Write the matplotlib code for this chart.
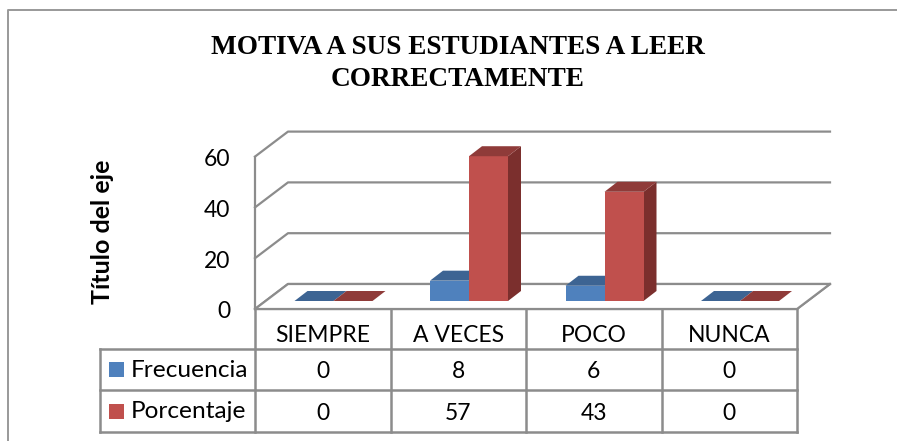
import matplotlib
matplotlib.use("Agg")
import matplotlib.pyplot as plt
from matplotlib.patches import Polygon, Rectangle

# Data
categories = ["SIEMPRE", "A VECES", "POCO", "NUNCA"]
series_names = ["Frecuencia", "Porcentaje"]
frecuencia = [0, 8, 6, 0]
porcentaje = [0, 57, 43, 0]
y_ticks = [0, 20, 40, 60]

# Geometry in image pixels (the chart is a fake 3D box)
x0, x1 = 255, 797       # front floor edge
base_y = 309            # front floor y
dx, dy = 33, 25         # box depth
px_per_unit = 2.54
bar_w = 39
bar_dx, bar_dy = 13, 10  # bar depth
bar_base = 301
cat_w = (x1 - x0) / len(categories)
line = "#8c8c8c"
font = "Lato"

colors = ["#4F81BD", "#C0504D"]
top_colors = ["#3D6493", "#8F3B39"]
side_colors = ["#345578", "#7B2F2D"]

fig = plt.figure(figsize=(8.97, 4.41), dpi=100)
ax = fig.add_axes([0, 0, 1, 1])
ax.set_xlim(0, 897)
ax.set_ylim(441, 0)
ax.axis("off")

# Outer border
ax.plot([8, 8, 897], [441, 10, 10], color="#999999", lw=1.4)

# Title
ax.text(458, 48, "MOTIVA A SUS ESTUDIANTES A LEER", family="Liberation Serif", weight="bold",
        fontsize=19.6, ha="center", va="center", color="black")
ax.text(458, 80, "CORRECTAMENTE", family="Liberation Serif", weight="bold",
        fontsize=19.6, ha="center", va="center", color="black")

# Y axis title
ax.text(103, 232, "Título del eje", family=font, weight="bold", fontsize=18,
        rotation=90, ha="center", va="center", color="black")

# Walls and gridlines
for v in y_ticks:
    y = base_y - v * px_per_unit
    ax.plot([x0, x0 + dx, x1 + dx], [y, y - dy, y - dy], color=line, lw=1.6, zorder=1)
    ax.text(230, y + 3, str(v), family=font, fontsize=16.5, ha="right", va="center", color="black")
ax.plot([x0, x0], [base_y, base_y - y_ticks[-1] * px_per_unit], color=line, lw=1.6, zorder=1)
ax.plot([x0, x1, x1 + dx], [base_y, base_y, base_y - dy], color=line, lw=1.6, zorder=1)
ax.add_patch(Polygon([(x0, base_y), (x1, base_y), (x1 + dx, base_y - dy), (x0 + dx, base_y - dy)],
                     facecolor="white", edgecolor=line, lw=1.6, zorder=1))

# Bars
for i in range(len(categories)):
    left = x0 + i * cat_w + 39.5
    for j, vals in enumerate([frecuencia, porcentaje]):
        h = vals[i] * px_per_unit
        xl = left + j * bar_w
        xr = xl + bar_w
        top = bar_base - h
        ax.add_patch(Polygon([(xr, bar_base), (xr + bar_dx, bar_base - bar_dy),
                              (xr + bar_dx, top - bar_dy), (xr, top)],
                             facecolor=side_colors[j], edgecolor="none", zorder=2 + j))
        ax.bar(xl + bar_w / 2, -h, width=bar_w, bottom=bar_base, color=colors[j], zorder=2.5 + j)
        ax.add_patch(Polygon([(xl, top), (xr, top), (xr + bar_dx, top - bar_dy), (xl + bar_dx, top - bar_dy)],
                             facecolor=top_colors[j], edgecolor="none", zorder=2.5 + j))

# Data table
row_y = [349, 390, 432]
table_left = 100
ax.plot([table_left, x1], [row_y[0], row_y[0]], color=line, lw=1.8, zorder=1)
ax.plot([table_left, x1], [row_y[1], row_y[1]], color=line, lw=1.8, zorder=1)
ax.plot([table_left, x1], [row_y[2], row_y[2]], color=line, lw=1.8, zorder=1)
ax.plot([table_left, table_left], [row_y[0], row_y[2]], color=line, lw=1.8, zorder=1)
for i in range(len(categories) + 1):
    xv = x0 + i * cat_w
    ax.plot([xv, xv], [base_y, row_y[2]], color=line, lw=1.8, zorder=1)

for i, cat in enumerate(categories):
    xc = x0 + (i + 0.5) * cat_w
    ax.text(xc, 336, cat, family=font, fontsize=16.5, ha="center", va="center", color="black")
    ax.text(xc, 371, str(frecuencia[i]), family=font, fontsize=16.5, ha="center", va="center", color="black")
    ax.text(xc, 413, str(porcentaje[i]), family=font, fontsize=16.5, ha="center", va="center", color="black")

for j, name in enumerate(series_names):
    yc = (row_y[j] + row_y[j + 1]) / 2
    ax.add_patch(Rectangle((109, yc - 7.5), 15, 15, facecolor=colors[j], edgecolor="none"))
    ax.text(131, yc + 1, name, family=font, fontsize=17.6, ha="left", va="center", color="black")

fig.savefig("out.png", dpi=100)
